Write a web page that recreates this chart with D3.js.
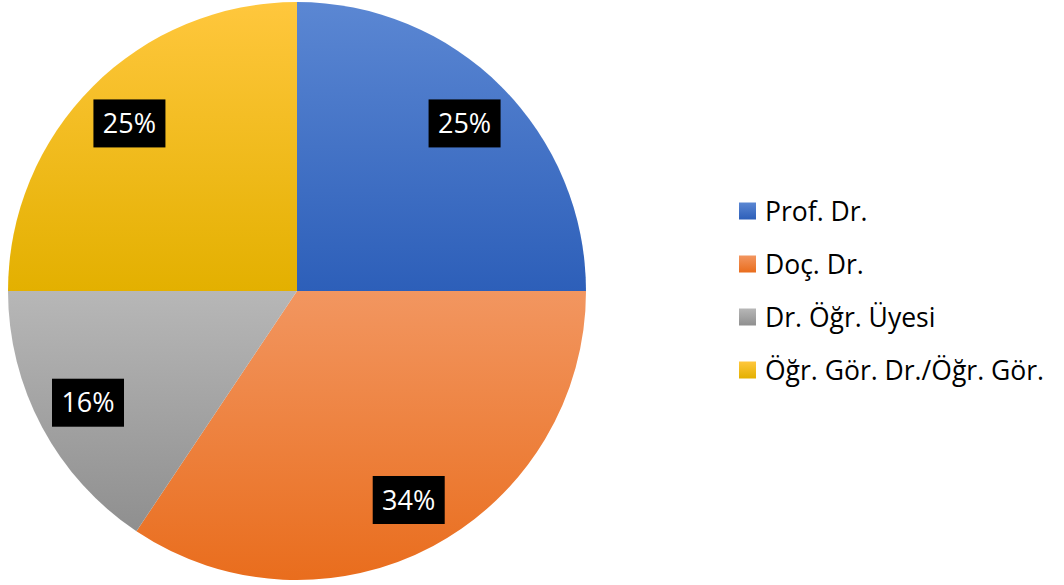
<!DOCTYPE html>
<html>
<head>
<meta charset="utf-8">
<script src="https://cdn.jsdelivr.net/npm/d3@7"></script>
<style>
  body { margin: 0; background: #fff; }
  svg { display: block; }
  text { font-family: "Open Sans", Lato, sans-serif; }
</style>
</head>
<body>
<div id="viz"></div>
<script>
// data
var categories = ["Prof. Dr.", "Doç. Dr.", "Dr. Öğr. Üyesi", "Öğr. Gör. Dr./Öğr. Gör."];
var counts = [16, 22, 10, 16];
var topColors = ["#5b87d3", "#f29660", "#b7b7b7", "#ffc73d"];
var bottomColors = ["#2d5fb9", "#e96d1d", "#8f8f8f", "#e3b000"];

var w = 1064, h = 585;
var cx = 297, cy = 291, radius = 289;

var svg = d3.select("div#viz").append("svg")
  .attr("width", w)
  .attr("height", h);

var defs = svg.append("defs");

// one vertical gradient per slice
categories.forEach(function (c, i) {
  var g = defs.append("linearGradient")
    .attr("id", "grad" + i)
    .attr("x1", 0).attr("y1", 0).attr("x2", 0).attr("y2", 1);
  g.append("stop").attr("offset", "0%").attr("stop-color", topColors[i]);
  g.append("stop").attr("offset", "100%").attr("stop-color", bottomColors[i]);
});

var total = d3.sum(counts);

var pie = d3.pie().sort(null).value(function (d) { return d; });
var arcs = pie(counts);

var arc = d3.arc().innerRadius(0).outerRadius(radius);
var labelArc = d3.arc().innerRadius(radius * 0.82).outerRadius(radius * 0.82);

var g = svg.append("g").attr("transform", "translate(" + cx + "," + cy + ")");

g.selectAll("path.slice").data(arcs).enter().append("path")
  .attr("class", "slice")
  .attr("d", arc)
  .attr("fill", function (d, i) { return "url(#grad" + i + ")"; });

// data labels in black boxes
var labels = g.selectAll("g.lbl").data(arcs).enter().append("g")
  .attr("class", "lbl")
  .attr("transform", function (d) {
    var p = labelArc.centroid(d);
    return "translate(" + p[0] + "," + p[1] + ")";
  });

labels.append("rect")
  .attr("x", -36).attr("y", -24)
  .attr("width", 72).attr("height", 48)
  .attr("fill", "#000");

labels.append("text")
  .attr("text-anchor", "middle")
  .attr("dy", "0.36em")
  .attr("fill", "#fff")
  .style("font-size", "27px")
  .text(function (d) { return Math.round(d.data / total * 100) + "%"; });

// legend
var legend = svg.append("g").attr("transform", "translate(739,211)");
var rows = legend.selectAll("g").data(categories).enter().append("g")
  .attr("transform", function (d, i) { return "translate(0," + (i * 53) + ")"; });

rows.append("rect")
  .attr("x", 0).attr("y", -8.5)
  .attr("width", 17).attr("height", 17)
  .attr("fill", function (d, i) { return "url(#grad" + i + ")"; });

rows.append("text")
  .attr("x", 26)
  .attr("dy", "0.36em")
  .attr("fill", "#000")
  .style("font-size", "26.5px")
  .text(function (d) { return d; });
</script>
</body>
</html>
